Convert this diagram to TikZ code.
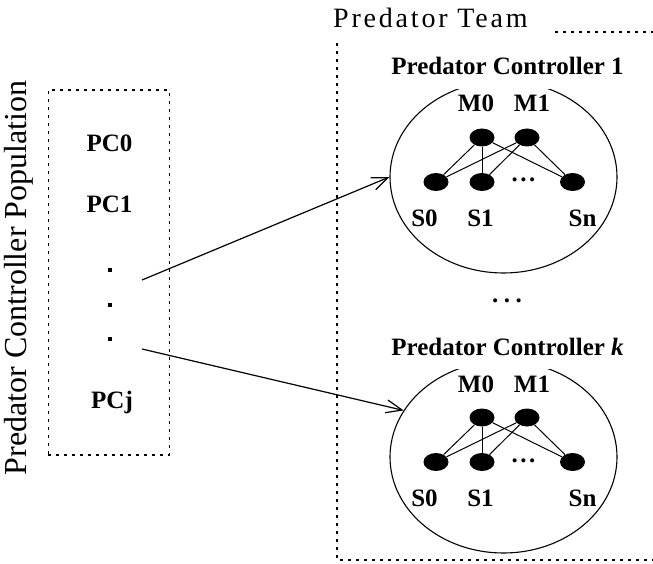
\documentclass[tikz,border=0pt]{standalone}
\usepackage{fontspec}
\setmainfont{Liberation Serif}
\newfontfamily\teamfont[LetterSpace=10]{Liberation Serif}
\usetikzlibrary{shapes.geometric,arrows.meta,positioning}

\begin{document}
\begin{tikzpicture}[
    x=1pt, y=-1pt,
    dotline/.style={line width=1.4pt, dash pattern=on 3pt off 5pt},
    tag/.style={font=\bfseries\fontsize{25}{30}\selectfont, inner sep=0pt},
    title/.style={tag, fill=white, inner xsep=2pt, inner ysep=14pt},
    ctrl/.style={ellipse, draw, line width=1.1pt, minimum width=227pt, minimum height=192pt, inner sep=0pt},
    neuron/.style={ellipse, fill=black, minimum width=25pt, minimum height=18pt, inner sep=0pt},
    pcdot/.style={rectangle, fill=black, minimum size=3.5pt, inner sep=0pt},
    link/.style={line width=1pt},
    arrow/.style={-{Straight Barb[length=16pt,width=13pt]}, line width=1.2pt}
]
\useasboundingbox (0,0) rectangle (653,564);

% population of controllers
\node[rotate=90, anchor=base, font=\fontsize{32}{38}\selectfont] (poplab) at (27,278) {Predator Controller Population};
\node[draw, dotline, minimum width=121pt, minimum height=365pt, inner sep=0pt] (popbox) at (108.75,272.5) {};
\node[tag, anchor=base] (pc0) at (109.5,152) {PC0};
\node[tag, anchor=base] (pc1) at (109.5,212) {PC1};
\node[pcdot] (pdot1) at (110,270) {};
\node[pcdot] (pdot2) at (110,305) {};
\node[pcdot] (pdot3) at (110,339) {};
\node[tag, anchor=base] (pcj) at (112,408) {PCj};

% team frame
\node[anchor=base west, inner sep=0pt, font=\teamfont\fontsize{28}{34}\selectfont] (teamlab) at (333,28) {Predator Team};
\draw[dotline] (555,32) -- (653,32);
\draw[dotline] (337,43) -- (337,560) -- (653,560);

% one network per team member
\foreach \c/\cy/\lab in {1/177/1, 2/457/\textit{k}} {
    \node[ctrl] (ctrl\c) at (503.5,\cy) {};
    \node[title, anchor=base] (title\c) at (507.5,\cy-102) {Predator Controller \lab};
    \node[neuron] (m0\c) at (482,\cy-39.5) {};
    \node[neuron] (m1\c) at (527,\cy-39.5) {};
    \node[neuron] (s0\c) at (436,\cy+5) {};
    \node[neuron] (s1\c) at (482,\cy+5) {};
    \node[neuron] (sn\c) at (572.5,\cy+5) {};
    \node[tag, anchor=base] (sdots\c) at (523.5,\cy+5) {.\kern2.5pt.\kern2.5pt.};
    \node[tag, anchor=base] (m0lab\c) at (476,\cy-65) {M0};
    \node[tag, anchor=base] (m1lab\c) at (532,\cy-65) {M1};
    \node[tag, anchor=base] (s0lab\c) at (424.5,\cy+49) {S0};
    \node[tag, anchor=base] (s1lab\c) at (480.5,\cy+49) {S1};
    \node[tag, anchor=base] (snlab\c) at (582.5,\cy+49) {Sn};
    \foreach \m in {m0,m1}
        \foreach \s in {s0,s1,sn}
            \draw[link] (\m\c) -- (\s\c);
}
\node[tag, anchor=base] (moredots) at (507,302) {.\kern5.5pt.\kern5.5pt.};

% assignment arrows
\coordinate (src1) at (142,280);
\coordinate (src2) at (142,349);
\draw[arrow] (src1) -- (ctrl1.west);
\draw[arrow] (src2) -- (ctrl2.155);
\end{tikzpicture}
\end{document}
